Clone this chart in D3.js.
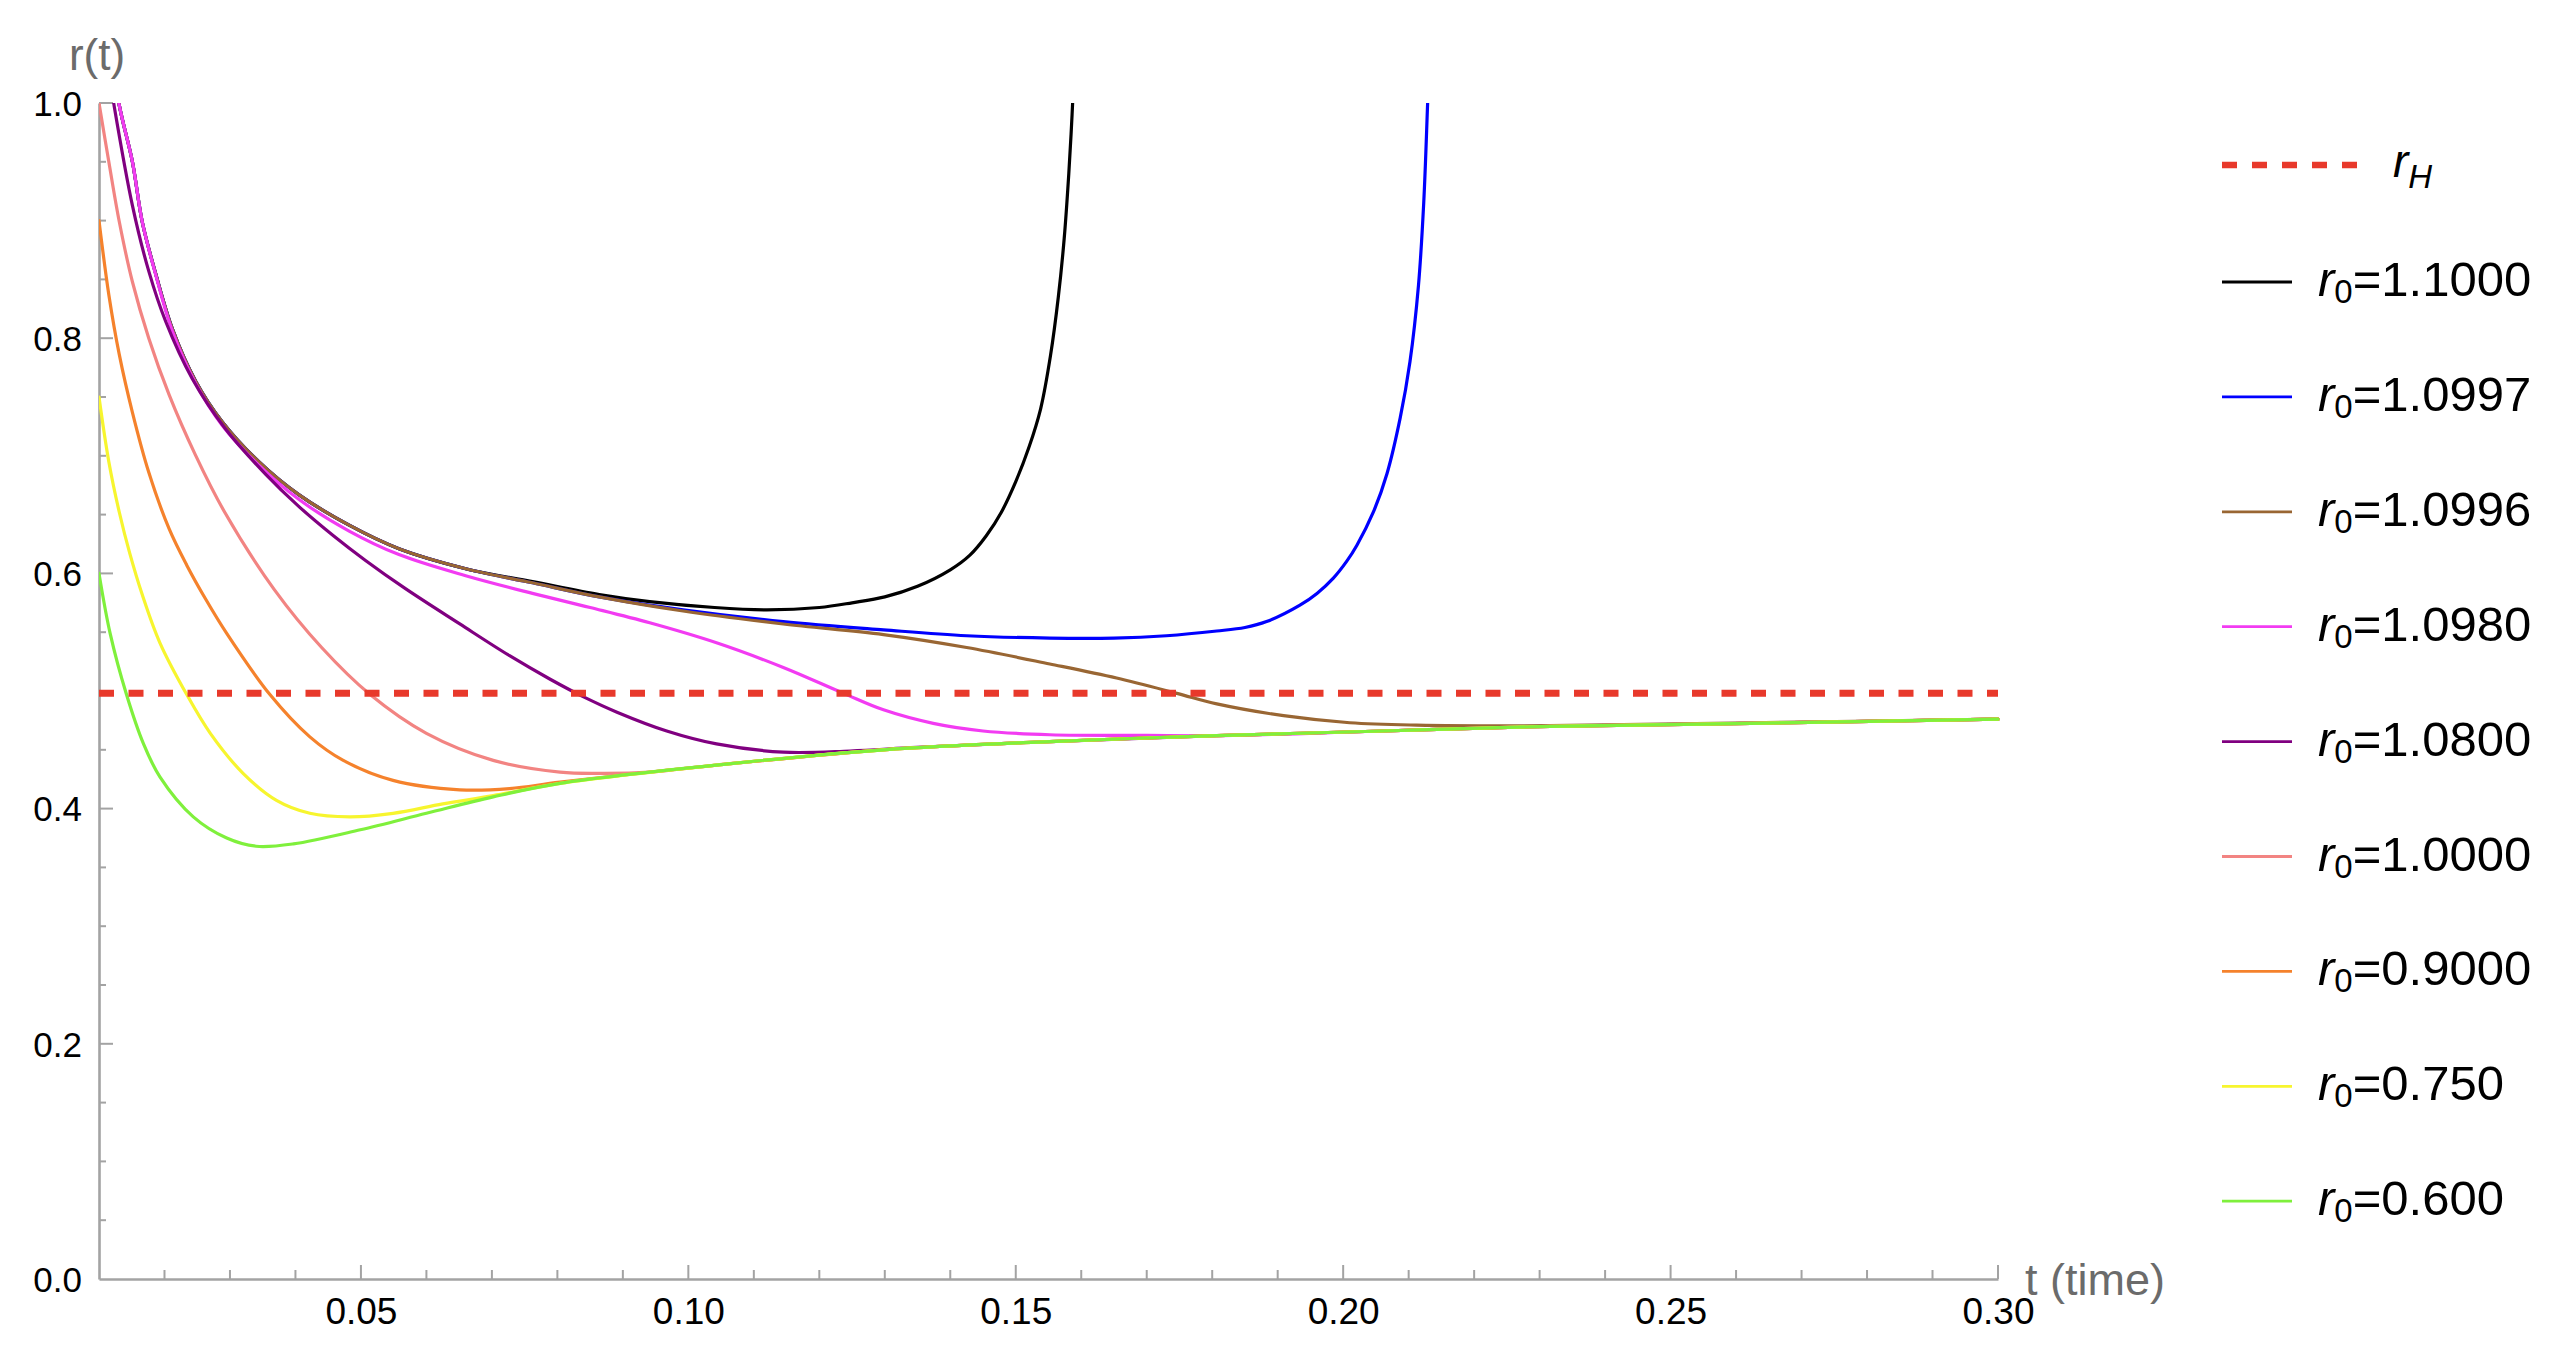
<!DOCTYPE html>
<html>
<head>
<meta charset="utf-8">
<script src="https://cdn.jsdelivr.net/npm/d3@7"></script>
<style>
  html, body { margin: 0; padding: 0; background: #ffffff; }
  svg { display: block; }
  text { font-family: "Liberation Sans", Arial, Helvetica, sans-serif; }
</style>
</head>
<body>
<svg id="chart" width="2559" height="1359"></svg>
<script>
// ---------------- data (t, r) ----------------
const rH = 0.498;

const curveR1_1000 = [
  [0.0100, 1.100], [0.0131, 0.998], [0.0151, 0.950], [0.0166, 0.899], [0.0187, 0.854],
  [0.0212, 0.808], [0.0248, 0.763], [0.0288, 0.729], [0.0344, 0.695], [0.0405, 0.667],
  [0.0482, 0.641], [0.0558, 0.621], [0.0660, 0.604], [0.0762, 0.593], [0.0864, 0.582],
  [0.0941, 0.576], [0.1040, 0.571], [0.1120, 0.569], [0.1200, 0.571], [0.1250, 0.575],
  [0.1300, 0.580], [0.1350, 0.589], [0.1400, 0.603], [0.1430, 0.6155], [0.1455, 0.632],
  [0.1478, 0.652], [0.1500, 0.678], [0.1520, 0.707], [0.1538, 0.740], [0.1553, 0.785],
  [0.1565, 0.835], [0.1574, 0.885], [0.1581, 0.940], [0.1586, 0.990], [0.1590, 1.040]
];
const curveR1_0997 = [
  [0.0100, 1.0997], [0.0131, 0.998], [0.0151, 0.950], [0.0166, 0.899], [0.0187, 0.854],
  [0.0212, 0.808], [0.0248, 0.763], [0.0288, 0.729], [0.0344, 0.695], [0.0405, 0.667],
  [0.0482, 0.641], [0.0558, 0.621], [0.0660, 0.604], [0.0762, 0.592], [0.0864, 0.580],
  [0.0992, 0.569], [0.1145, 0.559], [0.1298, 0.552], [0.1425, 0.547], [0.1552, 0.545],
  [0.1650, 0.545], [0.1730, 0.547], [0.1807, 0.551], [0.1850, 0.554], [0.1883, 0.559],
  [0.1934, 0.573], [0.1960, 0.583], [0.1985, 0.596], [0.2005, 0.610], [0.2021, 0.624],
  [0.2046, 0.652], [0.2067, 0.685], [0.2087, 0.732], [0.2102, 0.780], [0.2115, 0.845],
  [0.2123, 0.915], [0.2129, 1.000], [0.2133, 1.060]
];
const curveR1_0996 = [
  [0.0100, 1.0996], [0.0131, 0.998], [0.0151, 0.950], [0.0166, 0.899], [0.0187, 0.854],
  [0.0212, 0.808], [0.0248, 0.763], [0.0288, 0.729], [0.0344, 0.695], [0.0405, 0.667],
  [0.0482, 0.641], [0.0558, 0.621], [0.0660, 0.604], [0.0762, 0.592], [0.0864, 0.580],
  [0.0992, 0.568], [0.1145, 0.557], [0.1298, 0.548], [0.1425, 0.537], [0.1552, 0.523],
  [0.1654, 0.511], [0.1746, 0.498], [0.1807, 0.489], [0.1909, 0.479], [0.2010, 0.473],
  [0.2112, 0.471], [0.2316, 0.4705], [0.2622, 0.473], [0.3000, 0.476]
];
const curveR1_0980 = [
  [0.0100, 1.098], [0.0131, 0.998], [0.0151, 0.950], [0.0166, 0.899], [0.0187, 0.853],
  [0.0212, 0.806], [0.0248, 0.761], [0.0288, 0.726], [0.0344, 0.692], [0.0405, 0.663],
  [0.0482, 0.636], [0.0558, 0.616], [0.0660, 0.598], [0.0762, 0.583], [0.0850, 0.571],
  [0.0941, 0.558], [0.1043, 0.541], [0.1145, 0.520], [0.1237, 0.498], [0.1298, 0.484],
  [0.1374, 0.4725], [0.1450, 0.466], [0.1552, 0.4628], [0.1700, 0.4622], [0.1807, 0.462],
  [0.2061, 0.466], [0.2316, 0.470], [0.2622, 0.4725], [0.3000, 0.476]
];
const curveR1_0800 = [
  [0.0100, 1.080], [0.0123, 0.998], [0.0151, 0.913], [0.0176, 0.857], [0.0202, 0.814],
  [0.0242, 0.766], [0.0293, 0.723], [0.0355, 0.684], [0.0405, 0.657], [0.0458, 0.632],
  [0.0507, 0.611], [0.0568, 0.587], [0.0651, 0.557], [0.0727, 0.530], [0.0789, 0.510],
  [0.0840, 0.495], [0.0891, 0.482], [0.0967, 0.466], [0.1043, 0.455], [0.1145, 0.448],
  [0.1247, 0.449], [0.1349, 0.452], [0.1552, 0.457], [0.1807, 0.462], [0.2061, 0.466],
  [0.2316, 0.470], [0.2622, 0.4725], [0.3000, 0.476]
];
const curveR1_0000 = [
  [0.0100, 1.000], [0.0115, 0.950], [0.0131, 0.899], [0.0151, 0.848], [0.0176, 0.800],
  [0.0207, 0.752], [0.0247, 0.701], [0.0292, 0.652], [0.0368, 0.586], [0.0440, 0.537],
  [0.0514, 0.497], [0.0600, 0.464], [0.0702, 0.441], [0.0804, 0.431], [0.0870, 0.430],
  [0.0940, 0.431], [0.1043, 0.437], [0.1298, 0.450], [0.1552, 0.457], [0.1807, 0.462],
  [0.2061, 0.466], [0.2316, 0.470], [0.2622, 0.4725], [0.3000, 0.476]
];
const curveR0_9000 = [
  [0.0100, 0.900], [0.0115, 0.837], [0.0131, 0.786], [0.0151, 0.737], [0.0176, 0.686],
  [0.0207, 0.638], [0.0234, 0.607], [0.0263, 0.578], [0.0295, 0.549], [0.0361, 0.497],
  [0.0422, 0.461], [0.0473, 0.441], [0.0549, 0.424], [0.0651, 0.416], [0.0727, 0.417],
  [0.0804, 0.4225], [0.1043, 0.437], [0.1298, 0.450], [0.1552, 0.457], [0.1807, 0.462],
  [0.2061, 0.466], [0.2316, 0.470], [0.2622, 0.4725], [0.3000, 0.476]
];
const curveR0_750 = [
  [0.0100, 0.750], [0.0115, 0.695], [0.0131, 0.652], [0.0147, 0.617], [0.0166, 0.582],
  [0.0193, 0.541], [0.0234, 0.497], [0.0270, 0.464], [0.0320, 0.430], [0.0371, 0.407],
  [0.0422, 0.396], [0.0483, 0.393], [0.0549, 0.396], [0.0625, 0.404], [0.0702, 0.411],
  [0.0804, 0.4215], [0.1043, 0.437], [0.1298, 0.450], [0.1552, 0.457], [0.1807, 0.462],
  [0.2061, 0.466], [0.2316, 0.470], [0.2622, 0.4725], [0.3000, 0.476]
];
const curveR0_600 = [
  [0.0100, 0.600], [0.0117, 0.549], [0.0142, 0.497], [0.0168, 0.455], [0.0193, 0.427],
  [0.0244, 0.393], [0.0295, 0.375], [0.0340, 0.368], [0.0397, 0.370], [0.0499, 0.382],
  [0.0600, 0.396], [0.0702, 0.410], [0.0804, 0.4215], [0.1043, 0.437], [0.1298, 0.450],
  [0.1552, 0.457], [0.1807, 0.462], [0.2061, 0.466], [0.2316, 0.470], [0.2622, 0.4725],
  [0.3000, 0.476]
];

const seriesData = [curveR1_1000, curveR1_0997, curveR1_0996, curveR1_0980, curveR1_0800,
                    curveR1_0000, curveR0_9000, curveR0_750, curveR0_600];
const seriesLabels = ["1.1000", "1.0997", "1.0996", "1.0980", "1.0800", "1.0000", "0.9000", "0.750", "0.600"];
const seriesColors = ["#000000", "#0000ff", "#996633", "#f23bf2", "#800080", "#f28482", "#f5822c", "#f7f52e", "#7ff03c"];

const xMajorTicks = [0.05, 0.10, 0.15, 0.20, 0.25, 0.30];
const xTickLabels = ["0.05", "0.10", "0.15", "0.20", "0.25", "0.30"];
const yMajorTicks = [0.0, 0.2, 0.4, 0.6, 0.8, 1.0];
const yTickLabels = ["0.0", "0.2", "0.4", "0.6", "0.8", "1.0"];

// ---------------- layout ----------------
const svg = d3.select("#chart");
const X0 = 99, X1 = 1998, Y0 = 1279, Y1 = 103;
const x = d3.scaleLinear().domain([0.01, 0.30]).range([X0, X1]);
const y = d3.scaleLinear().domain([0, 1]).range([Y0, Y1]);
const axisColor = "#a3a3a3";

svg.append("rect").attr("width", 2559).attr("height", 1359).attr("fill", "#fff");

svg.append("defs").append("clipPath").attr("id", "plotClip")
  .append("rect").attr("x", X0).attr("y", Y1).attr("width", X1 - X0 + 2).attr("height", Y0 - Y1);

// x minor ticks every 0.01 and y minor every 0.05
const xMinor = d3.range(2, 31).map(k => k / 100);
const yMinor = d3.range(1, 20).map(k => k / 20);

// x axis
const xAxis = d3.axisBottom(x).tickValues(xMajorTicks).tickSize(0).tickPadding(0)
  .tickFormat((d, i) => xTickLabels[i]);
const gx = svg.append("g").attr("transform", `translate(0,${Y0})`).call(xAxis);
gx.select(".domain").attr("stroke", axisColor).attr("stroke-width", 2.6);
gx.selectAll(".tick text").attr("fill", "#000").attr("font-size", 37)
  .attr("y", 45).attr("dy", 0);
gx.selectAll(".minor").data(xMinor).enter().append("line")
  .attr("x1", d => x(d)).attr("x2", d => x(d))
  .attr("y1", 0).attr("y2", d => (Math.round(d * 100) % 5 === 0) ? -14 : -9)
  .attr("stroke", axisColor).attr("stroke-width", 2);

// y axis
const yAxis = d3.axisLeft(y).tickValues(yMajorTicks).tickSize(0).tickPadding(17)
  .tickFormat((d, i) => yTickLabels[i]);
const gy = svg.append("g").attr("transform", `translate(${X0},0)`).call(yAxis);
gy.select(".domain").attr("stroke", axisColor).attr("stroke-width", 2.6);
gy.selectAll(".tick text").attr("fill", "#000").attr("font-size", 35).attr("dy", "0.35em");
gy.selectAll(".minor").data(yMinor.concat([1.0])).enter().append("line")
  .attr("y1", d => y(d)).attr("y2", d => y(d))
  .attr("x1", 0).attr("x2", d => (Math.round(d * 20) % 4 === 0) ? 14 : 7)
  .attr("stroke", axisColor).attr("stroke-width", 2);

// axis labels
svg.append("text").attr("x", 97).attr("y", 70).attr("text-anchor", "middle")
  .attr("font-size", 44).attr("fill", "#6b6b6b").text("r(t)");
svg.append("text").attr("x", 2025).attr("y", 1295).attr("text-anchor", "start")
  .attr("font-size", 45).attr("fill", "#6b6b6b").text("t (time)");

// curves
const line = d3.line().x(d => x(d[0])).y(d => y(d[1])).curve(d3.curveCatmullRom.alpha(0.5));
const plot = svg.append("g").attr("clip-path", "url(#plotClip)");
seriesData.forEach((data, i) => {
  plot.append("path").datum(data).attr("d", line)
    .attr("fill", "none").attr("stroke", seriesColors[i])
    .attr("stroke-width", 3.2).attr("stroke-linejoin", "round").attr("stroke-linecap", "round");
});

// r_H dashed line (drawn on top)
svg.append("line").attr("x1", x(0.01)).attr("x2", x(0.30))
  .attr("y1", y(rH)).attr("y2", y(rH))
  .attr("stroke", "#e8392b").attr("stroke-width", 7).attr("stroke-dasharray", "15,14.5");

// ---------------- legend ----------------
const lg = svg.append("g");
lg.append("line").attr("x1", 2222).attr("x2", 2357).attr("y1", 165).attr("y2", 165)
  .attr("stroke", "#e8392b").attr("stroke-width", 6.5).attr("stroke-dasharray", "15,15");
const rhText = lg.append("text").attr("x", 2393).attr("y", 177).attr("font-size", 46).attr("fill", "#000");
rhText.append("tspan").attr("font-style", "italic").text("r");
rhText.append("tspan").attr("font-style", "italic").attr("font-size", 33).attr("dy", 11).text("H");

seriesLabels.forEach((lab, i) => {
  const ly = 282 + i * 114.9;
  lg.append("line").attr("x1", 2222).attr("x2", 2292).attr("y1", ly).attr("y2", ly)
    .attr("stroke", seriesColors[i]).attr("stroke-width", 2.8);
  const t = lg.append("text").attr("x", 2318).attr("y", ly + 14).attr("font-size", 49).attr("fill", "#000");
  t.append("tspan").attr("font-style", "italic").text("r");
  t.append("tspan").attr("font-size", 33).attr("dy", 7).text("0");
  t.append("tspan").attr("dy", -7).text("=" + lab);
});
</script>
</body>
</html>
